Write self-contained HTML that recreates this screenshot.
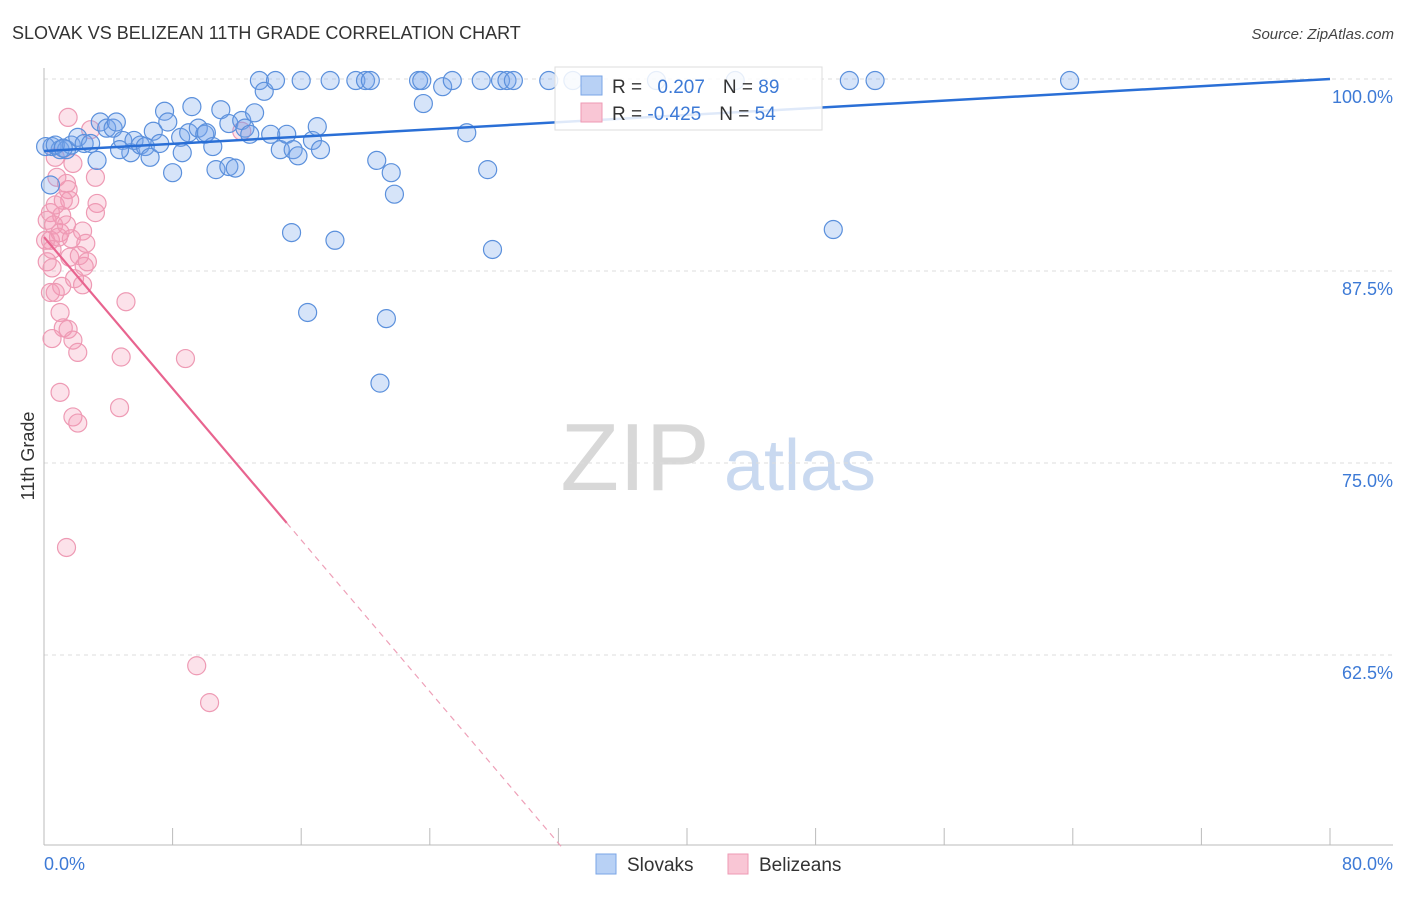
<!DOCTYPE html>
<html><head><meta charset="utf-8"><style>
body{margin:0;background:#fff;font-family:"Liberation Sans",sans-serif}
svg text{font-family:"Liberation Sans",sans-serif}
</style></head><body>
<svg id="chart" width="1406" height="892" xmlns="http://www.w3.org/2000/svg">
<text x="12" y="39" font-size="18" fill="#333">SLOVAK VS BELIZEAN 11TH GRADE CORRELATION CHART</text>
<text x="1394" y="39" font-size="15" fill="#444" text-anchor="end" font-style="italic">Source: ZipAtlas.com</text>
<g>
<text x="635" y="490" font-size="96" fill="#d8d8d8" font-family="Liberation Serif" text-anchor="middle">ZIP</text>
<text x="800" y="490" font-size="72" fill="#c9d9f0" text-anchor="middle">atlas</text>
</g>
<g id="grid"></g><g id="axes"></g><g id="pts"></g><g id="lines"></g>
<text transform="translate(34,456) rotate(-90)" font-size="18" fill="#333" text-anchor="middle">11th Grade</text>
<text x="44" y="870" font-size="18" fill="#3d7ad6">0.0%</text>
<text x="1393" y="870" font-size="18" fill="#3d7ad6" text-anchor="end">80.0%</text>
<g>
<rect x="555" y="67" width="267" height="63" fill="#fff" fill-opacity="0.85" stroke="#ddd"/>
<rect x="581" y="76" width="21" height="19" fill="#b8d1f5" stroke="#7aa5e6"/>
<rect x="581" y="103" width="21" height="19" fill="#f9c6d5" stroke="#ee9ab4"/>
<text x="612" y="93" font-size="19" fill="#333">R = <tspan fill="#3d7ad6" dx="10">0.207</tspan><tspan dx="18" fill="#333">N = </tspan><tspan fill="#3d7ad6">89</tspan></text>
<text x="612" y="120" font-size="19" fill="#333">R = <tspan fill="#3d7ad6">-0.425</tspan><tspan dx="18" fill="#333">N = </tspan><tspan fill="#3d7ad6">54</tspan></text>
</g>
<g>
<rect x="596" y="854" width="20" height="20" fill="#b8d1f5" stroke="#7aa5e6"/>
<text x="627" y="871" font-size="19" fill="#333">Slovaks</text>
<rect x="728" y="854" width="20" height="20" fill="#f9c6d5" stroke="#ee9ab4"/>
<text x="759" y="871" font-size="19" fill="#333">Belizeans</text>
</g>
</svg>
<script>
const yTicks=[100,87.5,75,62.5];
const yTickLabels=["100.0%","87.5%","75.0%","62.5%"];
const xTicks=[8,16,24,32,40,48,56,64,72,80];
const blueX=[0.5,1.0,1.4,1.7,2.1,2.5,2.9,3.3,3.5,3.9,4.3,4.5,4.9,5.4,5.6,6.0,6.3,6.6,6.8,7.2,7.5,7.7,8.0,8.5,8.6,9.0,9.2,9.6,10.0,10.1,10.5,10.7,11.0,11.5,11.5,11.9,12.3,12.5,12.8,13.1,13.4,13.7,14.1,14.4,14.7,15.1,15.4,15.5,15.8,16.0,16.4,16.7,17.0,17.2,17.8,18.1,19.4,20.0,20.3,20.7,20.9,21.3,21.6,21.8,23.3,23.5,23.6,24.8,25.4,26.3,27.2,27.6,27.9,28.4,28.8,29.2,31.4,32.9,38.1,43.0,49.1,50.1,51.7,63.8,0.1,0.7,1.2,4.7,0.4];
const blueY=[95.6,95.4,95.4,95.7,96.2,95.8,95.8,94.7,97.2,96.8,96.8,97.2,96.0,95.2,96.0,95.7,95.6,94.9,96.6,95.8,97.9,97.2,93.9,96.2,95.2,96.5,98.2,96.8,96.4,96.5,95.6,94.1,98.0,97.1,94.3,94.2,97.3,96.8,96.4,97.8,99.9,99.2,96.4,99.9,95.4,96.4,90.0,95.4,95.0,99.9,84.8,96.0,96.9,95.4,99.9,89.5,99.9,99.9,99.9,94.7,80.2,84.4,93.9,92.5,99.9,99.9,98.4,99.5,99.9,96.5,99.9,94.1,88.9,99.9,99.9,99.9,99.9,99.9,99.9,99.9,90.2,99.9,99.9,99.9,95.6,95.7,95.5,95.4,93.1];
const pinkX=[1.5,2.9,0.7,1.8,0.8,1.4,3.2,1.5,1.6,3.3,0.4,1.1,3.2,0.2,0.6,1.0,2.4,0.4,0.9,1.7,2.6,0.5,1.6,2.5,1.9,2.4,1.1,0.4,0.7,5.1,1.0,1.2,1.5,0.5,1.8,2.1,4.8,8.8,1.0,1.8,2.1,4.7,1.4,9.5,10.3,12.3,0.1,0.2,0.7,1.2,2.2,2.7,0.5,1.4];
const pinkY=[97.5,96.7,94.9,94.5,93.6,93.2,93.6,92.8,92.1,91.9,91.3,91.1,91.3,90.8,90.5,90.0,90.1,89.5,89.7,89.6,89.3,88.9,88.4,87.8,87.0,86.6,86.5,86.1,86.1,85.5,84.8,83.8,83.7,83.1,83.0,82.2,81.9,81.8,79.6,78.0,77.6,78.6,69.5,61.8,59.4,96.6,89.5,88.1,91.8,92.1,88.5,88.1,87.7,90.5];
const blueTrend=[[0,95.31],[80,100]];
const pinkTrendSolid=[[0,89.71],[15.1,71.1]];
const pinkTrendDash=[[15.1,71.1],[32.2,50.0]];
const X=v=>44+v/80*1286;
const Y=v=>79+(100-v)/12.5*192;
const NS="http://www.w3.org/2000/svg";
function mk(tag,attrs,parent){const e=document.createElementNS(NS,tag);for(const k in attrs)e.setAttribute(k,attrs[k]);parent.appendChild(e);return e;}
const grid=document.getElementById('grid'),axes=document.getElementById('axes'),pts=document.getElementById('pts'),lines=document.getElementById('lines');
yTicks.forEach((t,i)=>{
 const l=mk('line',{x1:44,x2:1393,y1:Y(t),y2:Y(t),stroke:'#ddd','stroke-dasharray':'4,4'},grid);
 
 
 const tx=mk('text',{x:1393,y:Y(t)+24,'font-size':18,fill:'#3d7ad6','text-anchor':'end'},grid);
 tx.textContent=yTickLabels[i];
 
 
});
const ax=mk('line',{x1:44,x2:1393,y1:845,y2:845,stroke:'#bbb'},axes);


const ay=mk('line',{x1:44,x2:44,y1:68,y2:845,stroke:'#bbb'},axes);


xTicks.forEach(t=>{
 const l=mk('line',{x1:X(t),x2:X(t),y1:828,y2:845,stroke:'#bbb'},axes);
 
 
});
pinkX.forEach((v,i)=>{
 const c=mk('circle',{cx:X(v),cy:Y(pinkY[i]),r:9,fill:'rgba(244,150,180,0.28)',stroke:'#ee9ab4','stroke-width':1.2},pts);
 
 
});
blueX.forEach((v,i)=>{
 const c=mk('circle',{cx:X(v),cy:Y(blueY[i]),r:9,fill:'rgba(120,165,235,0.3)',stroke:'#5b90dc','stroke-width':1.2},pts);
 
 
});
const bt=mk('line',{x1:X(blueTrend[0][0]),y1:Y(blueTrend[0][1]),x2:X(blueTrend[1][0]),y2:Y(blueTrend[1][1]),stroke:'#2a6fd6','stroke-width':2.5},lines);


const ps=mk('line',{x1:X(pinkTrendSolid[0][0]),y1:Y(pinkTrendSolid[0][1]),x2:X(pinkTrendSolid[1][0]),y2:Y(pinkTrendSolid[1][1]),stroke:'#e8648f','stroke-width':2.2},lines);


const pd=mk('line',{x1:X(pinkTrendDash[0][0]),y1:Y(pinkTrendDash[0][1]),x2:X(pinkTrendDash[1][0]),y2:Y(pinkTrendDash[1][1]),stroke:'#eea0b8','stroke-width':1.2,'stroke-dasharray':'6,5'},lines);


</script>
</body></html>
